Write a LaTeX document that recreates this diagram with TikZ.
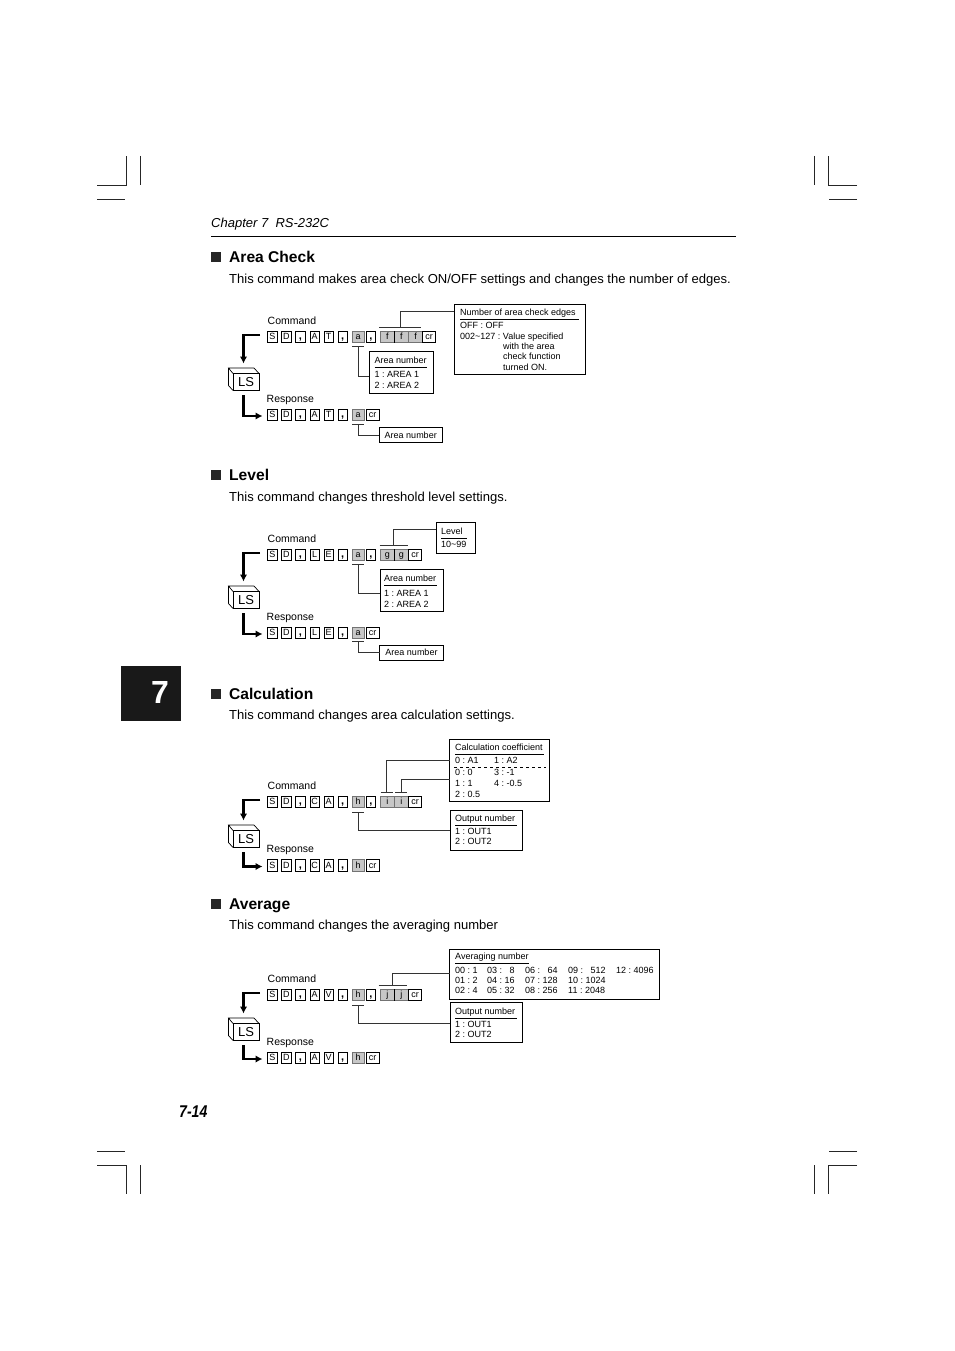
\documentclass[tikz,border=0pt]{standalone}
\usepackage{fontspec}
\setmainfont{Liberation Sans}
\usepackage{tikz}
\usetikzlibrary{calc, arrows.meta}
\frenchspacing

\tikzset{
  cropline/.style={line width=0.9pt, black!85},
  cmdcell/.style={draw, line width=0.6pt, anchor=west, inner sep=0pt, outer sep=0pt, minimum width=9.5pt, minimum height=11.5pt,
    text height=6.4pt, text depth=1pt, font=\fontsize{9}{10}\selectfont},
  greycell/.style={cmdcell, draw=black!55, fill=black!22, minimum width=12pt},
  widecell/.style={greycell, minimum width=14.1pt},
  crcell/.style={cmdcell, minimum width=13pt},
  flowline/.style={line width=2.6pt, -{Latex[length=7pt,width=7.5pt]}},
  lead/.style={line width=0.55pt, black!80},
  barline/.style={line width=0.6pt, black!80},
  infobox/.style={draw, line width=0.7pt, anchor=north west, inner sep=0pt, outer sep=0pt},
  boxtxt/.style={anchor=north west, inner sep=0pt, align=left, font=\fontsize{9}{10.6}\selectfont},
  steplabel/.style={anchor=base west, yshift=-3.7pt, inner sep=0pt, font=\fontsize{10.5}{12}\selectfont},
  headtxt/.style={anchor=base west, yshift=-5.7pt, inner sep=0pt, font=\bfseries\fontsize{15.6}{18}\selectfont},
  bodytxt/.style={anchor=base west, yshift=-4.5pt, inner sep=0pt, font=\fontsize{13.04}{16}\selectfont},
  headsquare/.style={fill=black!85, inner sep=0pt, minimum size=10pt},
}
\newcommand{\cmma}{\textbf{\fontsize{11}{11}\selectfont,}}

% suffix, command y, response y, LS y, command cells, response cells
\newcommand{\commandblock}[6]{
  \node[steplabel] (cmdlabel#1) at (267.5,#2-16) {Command};
  \node[steplabel] (resplabel#1) at (266.5,#3-16.7) {Response};
  \foreach \lab/\sty [count=\i] in {#5}
    \node[\sty] (cmd#1\i) at (267.5+14.1*\i-14.1,#2) {\lab};
  \foreach \lab/\sty [count=\i] in {#6}
    \node[\sty] (resp#1\i) at (267.5+14.1*\i-14.1,#3) {\lab};
  \node[draw, line width=0.7pt, minimum width=26pt, minimum height=17pt, inner sep=0pt, outer sep=0pt,
        font=\fontsize{13}{14}\selectfont] (ls#1) at (246,#4) {LS};
  \draw[line width=0.7pt] (ls#1.north west) -- ++(-4.5,-5.5) -- ++(25.5,0) -- (ls#1.north east);
  \draw[line width=0.7pt] (ls#1.north west) ++(-4.5,-5.5) -- ++(0,17.5) -- (ls#1.south west);
  \coordinate (lsin#1) at (243.5,#4-18.5);
  \coordinate (lsout#1) at (243.5,#4+13);
  \draw[flowline] ([xshift=-7.5pt,yshift=2pt]cmd#11.west) -| (lsin#1);
  \draw[flowline] (lsout#1) |- ([xshift=-5pt,yshift=-1pt]resp#11.west);
}
% name, x, y, rule end, text
\newcommand{\boxhead}[5]{
  \node[boxtxt] (#1) at (#2,#3-3.3) {#5};
  \draw[line width=0.6pt] (#2,#3+7) -- (#4,#3+7);
}
% name suffix, y, title
\newcommand{\sectionhead}[3]{
  \node[headsquare] (square#1) at (216,#2) {};
  \node[headtxt] (head#1) at (229,#2) {#3};
}

\begin{document}
\begin{tikzpicture}[x=1pt,y=-1pt]
\useasboundingbox (0,0) rectangle (954,1351);
\fill[white] (0,0) rectangle (954,1351);

% crop marks
\draw[cropline] (97,185) -- (126,185) -- (126,156);
\draw[cropline] (140.5,156) -- (140.5,185);
\draw[cropline] (97,199.5) -- (125,199.5);
\draw[cropline] (857,185) -- (828.5,185) -- (828.5,156);
\draw[cropline] (814.5,156) -- (814.5,185);
\draw[cropline] (857,199.5) -- (829,199.5);
\draw[cropline] (97,1165) -- (126,1165) -- (126,1194);
\draw[cropline] (140.5,1165) -- (140.5,1194);
\draw[cropline] (97,1151) -- (125,1151);
\draw[cropline] (857,1165) -- (828.5,1165) -- (828.5,1194);
\draw[cropline] (814.5,1165) -- (814.5,1194);
\draw[cropline] (857,1151) -- (829,1151);

% page furniture
\node[anchor=base west, inner sep=0pt, font=\itshape\fontsize{13}{16}\selectfont] (chapter) at (211,227) {Chapter 7\ \ RS-232C};
\draw[line width=0.8pt] (211,236.5) -- (736,236.5);
\node[fill=black!90, minimum width=60pt, minimum height=55pt, inner sep=0pt, outer sep=0pt] (chaptertab) at (151,693.5) {};
\node[text=white, inner sep=0pt, font=\bfseries\fontsize{32}{36}\selectfont] (chapternum) at (160,692) {7};
\node[anchor=west, inner sep=0pt, font=\bfseries\itshape\fontsize{17}{20}\selectfont] (pagenum) at (179,1112) {\scalebox{0.83}[1]{7-14}};

% Area Check
\sectionhead{A}{257}{Area Check}
\node[bodytxt] (bodyA) at (229,279) {This command makes area check ON/OFF settings and changes the number of edges.};
\commandblock{A}{337}{415}{382}
  {S/cmdcell,D/cmdcell,\cmma/cmdcell,A/cmdcell,T/cmdcell,\cmma/cmdcell,a/greycell,\cmma/cmdcell,f/widecell,f/widecell,f/widecell,cr/crcell}
  {S/cmdcell,D/cmdcell,\cmma/cmdcell,A/cmdcell,T/cmdcell,\cmma/cmdcell,a/greycell,cr/crcell}
\draw[line width=1.6pt] (cmdA9.north east) -- (cmdA9.south east);
\node[infobox, minimum width=131.5pt, minimum height=70pt] (edgesA) at (454.3,304.3) {};
\boxhead{edgestitleA}{460}{312}{579}{Number of area check edges}
\node[boxtxt, font=\fontsize{9}{10.4}\selectfont] (edgestextA) at (460,322.3) {OFF : OFF\\002\textasciitilde127 : Value specified\\\hspace{43pt}with the area\\\hspace{43pt}check function\\\hspace{43pt}turned ON.};
\node[infobox, minimum width=64.5pt, minimum height=42.5pt] (areaA) at (369,351) {};
\boxhead{areatitleA}{374.5}{360}{427}{Area number}
\node[boxtxt] (areatextA) at (374.5,371.5) {1 : AREA 1\\2 : AREA 2};
\node[infobox, minimum width=63.5pt, minimum height=15pt, font=\fontsize{9}{10}\selectfont] (areaoutA) at (379,427.5) {Area number};
\coordinate (barfA) at (400,327.3);
\coordinate (baraA) at (358.3,346.3);
\coordinate (barrA) at (358.3,424.3);
\draw[barline] (barfA) +(-21,0) -- +(21,0);
\draw[barline] (baraA) +(-6,0) -- +(6,0);
\draw[barline] (barrA) +(-6,0) -- +(6,0);
\draw[lead] (barfA) |- ([yshift=28.3pt]edgesA.west);
\draw[lead] (baraA) |- ([yshift=-4.4pt]areaA.west);
\draw[lead] (barrA) |- (areaoutA.west);

% Level
\sectionhead{B}{475}{Level}
\node[bodytxt] (bodyB) at (229,497) {This command changes threshold level settings.};
\commandblock{B}{555}{633}{600}
  {S/cmdcell,D/cmdcell,\cmma/cmdcell,L/cmdcell,E/cmdcell,\cmma/cmdcell,a/greycell,\cmma/cmdcell,g/widecell,g/widecell,cr/crcell}
  {S/cmdcell,D/cmdcell,\cmma/cmdcell,L/cmdcell,E/cmdcell,\cmma/cmdcell,a/greycell,cr/crcell}
\draw[line width=1.6pt] (cmdB9.north east) -- (cmdB9.south east);
\node[infobox, minimum width=39.5pt, minimum height=31pt] (levelB) at (436,522.3) {};
\boxhead{leveltitleB}{441}{531}{467}{Level}
\node[boxtxt] (leveltextB) at (441,540.7) {10\textasciitilde99};
\node[infobox, minimum width=63.5pt, minimum height=42.5pt] (areaB) at (380,569.3) {};
\boxhead{areatitleB}{384}{578}{437}{Area number}
\node[boxtxt] (areatextB) at (384,590.5) {1 : AREA 1\\2 : AREA 2};
\node[infobox, minimum width=64pt, minimum height=15.5pt, font=\fontsize{9}{10}\selectfont] (areaoutB) at (379.5,645) {Area number};
\coordinate (bargB) at (393.7,545.7);
\coordinate (baraB) at (358.3,564);
\coordinate (barrB) at (358.3,641.7);
\draw[barline] (bargB) +(-14,0) -- +(14,0);
\draw[barline] (baraB) +(-6,0) -- +(6,0);
\draw[barline] (barrB) +(-6,0) -- +(6,0);
\draw[lead] (bargB) |- ([yshift=8.8pt]levelB.west);
\draw[lead] (baraB) |- ([yshift=-3.2pt]areaB.west);
\draw[lead] (barrB) |- (areaoutB.west);

% Calculation
\sectionhead{C}{693.5}{Calculation}
\node[bodytxt] (bodyC) at (229,715) {This command changes area calculation settings.};
\commandblock{C}{802}{865.5}{839}
  {S/cmdcell,D/cmdcell,\cmma/cmdcell,C/cmdcell,A/cmdcell,\cmma/cmdcell,h/greycell,\cmma/cmdcell,i/widecell,i/widecell,cr/crcell}
  {S/cmdcell,D/cmdcell,\cmma/cmdcell,C/cmdcell,A/cmdcell,\cmma/cmdcell,h/greycell,cr/crcell}
\node[infobox, minimum width=100pt, minimum height=62.7pt] (coeffC) at (449.5,739) {};
\boxhead{coefftitleC}{455}{747}{544}{Calculation coefficient}
\node[boxtxt] (coeffaC) at (455,756.7) {0 : A1};
\node[boxtxt] (coeffbC) at (494,756.7) {1 : A2};
\draw[line width=0.6pt, dashed] (454,767.7) -- (546,767.7);
\node[boxtxt] (coeffcC) at (455,769.4) {0 : 0\\1 : 1\\2 : 0.5};
\node[boxtxt] (coeffdC) at (494,769.4) {3 : -1\\4 : -0.5};
\node[infobox, minimum width=72pt, minimum height=40pt] (outC) at (450,810) {};
\boxhead{outtitleC}{455}{818}{517}{Output number}
\node[boxtxt] (outtextC) at (455,827.7) {1 : OUT1\\2 : OUT2};
\coordinate (bariC) at (386.7,792.3);
\coordinate (barjC) at (401,792.3);
\coordinate (barhC) at (358.3,812.3);
\draw[barline] (bariC) +(-6,0) -- +(6,0);
\draw[barline] (barjC) +(-6,0) -- +(6,0);
\draw[barline] (barhC) +(-6,0) -- +(6,0);
\draw[lead] (bariC) |- ([yshift=10.35pt]coeffC.west);
\draw[lead] (barjC) |- ([yshift=-8.65pt]coeffC.west);
\draw[lead] (barhC) |- ([yshift=-0.7pt]outC.west);

% Average
\sectionhead{D}{903.5}{Average}
\node[bodytxt] (bodyD) at (229,925) {This command changes the averaging number};
\commandblock{D}{995}{1058}{1032}
  {S/cmdcell,D/cmdcell,\cmma/cmdcell,A/cmdcell,V/cmdcell,\cmma/cmdcell,h/greycell,\cmma/cmdcell,j/widecell,j/widecell,cr/crcell}
  {S/cmdcell,D/cmdcell,\cmma/cmdcell,A/cmdcell,V/cmdcell,\cmma/cmdcell,h/greycell,cr/crcell}
\draw[line width=1.6pt] (cmdD9.north east) -- (cmdD9.south east);
\node[infobox, minimum width=210pt, minimum height=50pt] (avgD) at (449.5,949) {};
\boxhead{avgtitleD}{455}{956}{529}{Averaging number}
\node[boxtxt, font=\fontsize{9}{10}\selectfont] (avgaD) at (455,966.7) {00 : 1\\01 : 2\\02 : 4};
\node[boxtxt, font=\fontsize{9}{10}\selectfont] (avgbD) at (487,966.7) {03 : \hphantom{0}8\\04 : 16\\05 : 32};
\node[boxtxt, font=\fontsize{9}{10}\selectfont] (avgcD) at (525,966.7) {06 : \hphantom{0}64\\07 : 128\\08 : 256};
\node[boxtxt, font=\fontsize{9}{10}\selectfont] (avgdD) at (568,966.7) {09 : \hphantom{0}512\\10 : 1024\\11 : 2048};
\node[boxtxt, font=\fontsize{9}{10}\selectfont] (avgeD) at (616,966.7) {12 : 4096};
\node[infobox, minimum width=72.7pt, minimum height=40pt] (outD) at (450,1002.3) {};
\boxhead{outtitleD}{455}{1011}{517}{Output number}
\node[boxtxt] (outtextD) at (455,1020.7) {1 : OUT1\\2 : OUT2};
\coordinate (barjD) at (392.7,985.7);
\coordinate (barhD) at (358.3,1005);
\draw[barline] (barjD) +(-14,0) -- +(14,0);
\draw[barline] (barhD) +(-6,0) -- +(6,0);
\draw[lead] (barjD) |- ([yshift=0.7pt]avgD.west);
\draw[lead] (barhD) |- ([yshift=-1pt]outD.west);
\end{tikzpicture}
\end{document}
